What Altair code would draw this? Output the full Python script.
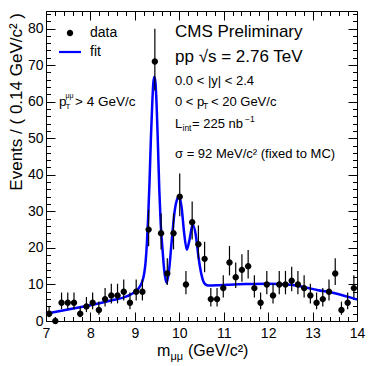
import altair as alt
import pandas as pd

# ---------------- data ----------------
bin_center = [7.07, 7.21, 7.35, 7.49, 7.63, 7.77, 7.91, 8.05, 8.19, 8.33,
              8.47, 8.61, 8.75, 8.89, 9.03, 9.17, 9.31, 9.45, 9.59, 9.73,
              9.87, 10.01, 10.15, 10.29, 10.43, 10.57, 10.71, 10.85, 10.99, 11.13,
              11.27, 11.41, 11.55, 11.69, 11.83, 11.97, 12.11, 12.25, 12.39, 12.53,
              12.67, 12.81, 12.95, 13.09, 13.23, 13.37, 13.51, 13.65, 13.79, 13.93]
events = [2, 0, 5, 5, 5, 2, 4, 5, 3, 6,
          7, 7, 8, 5, 8, 8, 25, 71, 24, 13,
          24, 34, 10, 27, 21, 17, 6, 6, 9, 16,
          12, 14, 15, 9, 5, 10, 7, 10, 10, 11,
          10, 9, 7, 5, 6, 8, 13, 3, 5, 9]

fit_mass = [7.0, 7.7, 8.0, 8.46, 8.83, 9.0, 9.06, 9.12, 9.17, 9.21,
            9.24, 9.27, 9.30, 9.33, 9.36, 9.39, 9.415, 9.44, 9.465, 9.49,
            9.52, 9.55, 9.58, 9.62, 9.66, 9.716, 9.77, 9.83, 9.90, 9.96,
            9.99, 10.05, 10.11, 10.17, 10.23, 10.30, 10.37, 10.43, 10.49, 10.56,
            10.62, 10.69, 10.9, 11.5, 12.0, 12.5, 12.8, 13.1, 13.5, 14.0]
fit_events = [2.0, 3.6, 4.3, 5.6, 6.8, 7.9, 8.5, 9.6, 10.9, 13.0,
              15.9, 21.0, 28.5, 38.0, 49.5, 59.0, 65.0, 66.8, 65.0, 59.0,
              48.0, 36.0, 27.0, 20.0, 14.0, 10.4, 14.0, 22.0, 30.4, 33.6,
              34.2, 31.3, 24.0, 19.5, 22.2, 26.3, 23.6, 17.7, 13.2, 10.4,
              9.8, 9.7, 9.8, 10.1, 10.2, 9.9, 9.3, 8.5, 7.6, 5.9]

series_names = ["data", "fit"]
series_colors = ["black", "#0000ff"]

x_label_values = [7, 8, 9, 10, 11, 12, 13, 14]
y_label_values = [0, 10, 20, 30, 40, 50, 60, 70, 80]
x_tick_values = [round(7 + 0.2 * i, 1) for i in range(36)]
y_tick_values = list(range(0, 85, 2))

# ---------------- layout / style ----------------
W, H = 311, 310
FONT = "Liberation Sans"
DOT = "M-0.29,0A0.29,0.29,0,1,1,0.29,0A0.29,0.29,0,1,1,-0.29,0Z"
BAR = "M-1,-0.1H1V0.1H-1Z"

data_df = pd.DataFrame({"m": bin_center, "n": events, "series": "data"})
fit_df = pd.DataFrame({"m": fit_mass, "n": fit_events})
one = pd.DataFrame({"k": [0]})

xs = alt.Scale(domain=[7, 14], nice=False, zero=False)
ys = alt.Scale(domain=[0, 84.8], nice=False, zero=False)

x_tsize = {"condition": {"test": "datum.value % 1 === 0", "value": 9}, "value": 4.5}
y_tsize = {"condition": {"test": "datum.value % 10 === 0", "value": 9}, "value": 4.5}


def tick_axis(orient, offset, values, size):
    return alt.Axis(orient=orient, offset=offset, values=values, tickSize=size,
                    labels=False, domain=False, grid=False, title=None,
                    ticks=True, tickColor="black", tickWidth=1)


fit = alt.Chart(fit_df).mark_line(color="#0000ff", strokeWidth=2.5,
                                  interpolate="monotone").encode(
    x=alt.X("m:Q", scale=xs, axis=tick_axis("top", -H, x_tick_values, x_tsize)),
    y=alt.Y("n:Q", scale=ys, axis=tick_axis("left", -W, y_tick_values, y_tsize)),
)

errs = alt.Chart(data_df).transform_calculate(
    lo="max(0, datum.n + 0.5 - sqrt(datum.n + 0.25))",
    hi="datum.n + 0.5 + sqrt(datum.n + 0.25)",
).mark_rule(color="black", strokeWidth=1.2).encode(
    x=alt.X("m:Q", scale=xs, axis=tick_axis("bottom", -H, x_tick_values, x_tsize)),
    y=alt.Y("lo:Q", scale=ys, axis=tick_axis("right", -W, y_tick_values, y_tsize)),
    y2="hi:Q",
)

legend = alt.Legend(title=None, orient="none", legendX=13, legendY=11,
                    labelFont=FONT, labelFontSize=14, labelColor="black",
                    labelOffset=9, rowPadding=1, symbolSize=484, padding=0,
                    symbolStrokeWidth=0, symbolOpacity=1)

points = alt.Chart(data_df).mark_point(filled=True, size=484, opacity=1,
                                       strokeWidth=0).encode(
    x=alt.X("m:Q", scale=xs, axis=alt.Axis(
        orient="bottom", values=x_label_values, ticks=False, tickSize=0,
        domain=False, grid=False, title=None, labelFont=FONT, labelFontSize=14,
        labelPadding=5, labelFlush=False, labelOverlap=False, labelColor="black")),
    y=alt.Y("n:Q", scale=ys, axis=alt.Axis(
        orient="left", values=y_label_values, ticks=False, tickSize=0,
        domain=False, grid=False, title=None, labelFont=FONT, labelFontSize=14,
        labelPadding=3, labelFlush=False, labelOverlap=False, labelColor="black")),
    color=alt.Color("series:N", scale=alt.Scale(domain=series_names, range=series_colors),
                    legend=legend),
    shape=alt.Shape("series:N", scale=alt.Scale(domain=series_names, range=[DOT, BAR]),
                    legend=legend),
)


def txt(s, x, y, size, align="left", baseline="middle", angle=None):
    props = dict(text=s, font=FONT, fontSize=size, align=align,
                 baseline=baseline, color="black")
    if angle is not None:
        props["angle"] = angle
    return alt.Chart(one).mark_text(**props).encode(x=alt.value(x), y=alt.value(y))


texts = [
    txt("CMS Preliminary", 129, 21, 17),
    txt("pp √s = 2.76 TeV", 129, 46, 17),
    txt("0.0 < |y| < 2.4", 129, 70, 13),
    txt("0 < p", 129, 91, 13),
    txt("T", 157, 95, 8.5),
    txt("< 20 GeV/c", 165, 91, 13),
    txt("L", 129, 113, 13),
    txt("int", 136.5, 117, 8.5),
    txt("=  225 nb", 146, 113, 13),
    txt("−1", 199, 108, 8.5),
    txt("σ = 92 MeV/c² (fixed to MC)", 129, 143, 13),
    txt("p", 13, 91, 13.5),
    txt("T", 19.5, 96, 8),
    txt("μμ", 19.5, 85, 7),
    txt("> 4 GeV/c", 29, 91, 13.5),
    txt("m", 111, 345, 16, baseline="alphabetic"),
    txt("μμ", 124.5, 349, 11, baseline="alphabetic"),
    txt("(GeV/c²)", 142, 345, 16, baseline="alphabetic"),
    txt("Events / ( 0.14 GeV/c² )", -29, 2, 17, align="right", angle=270),
]

chart = alt.layer(fit, errs, points, *texts).resolve_axis(
    x="independent", y="independent"
).properties(
    width=W, height=H,
    autosize=alt.AutoSizeParams(type="none"),
    padding={"left": 38, "top": 3, "right": 10, "bottom": 42},
).configure_view(stroke="black", strokeWidth=1).configure_axis(grid=False)

chart.save("out.html", embed_options={"renderer": "svg", "actions": False})
